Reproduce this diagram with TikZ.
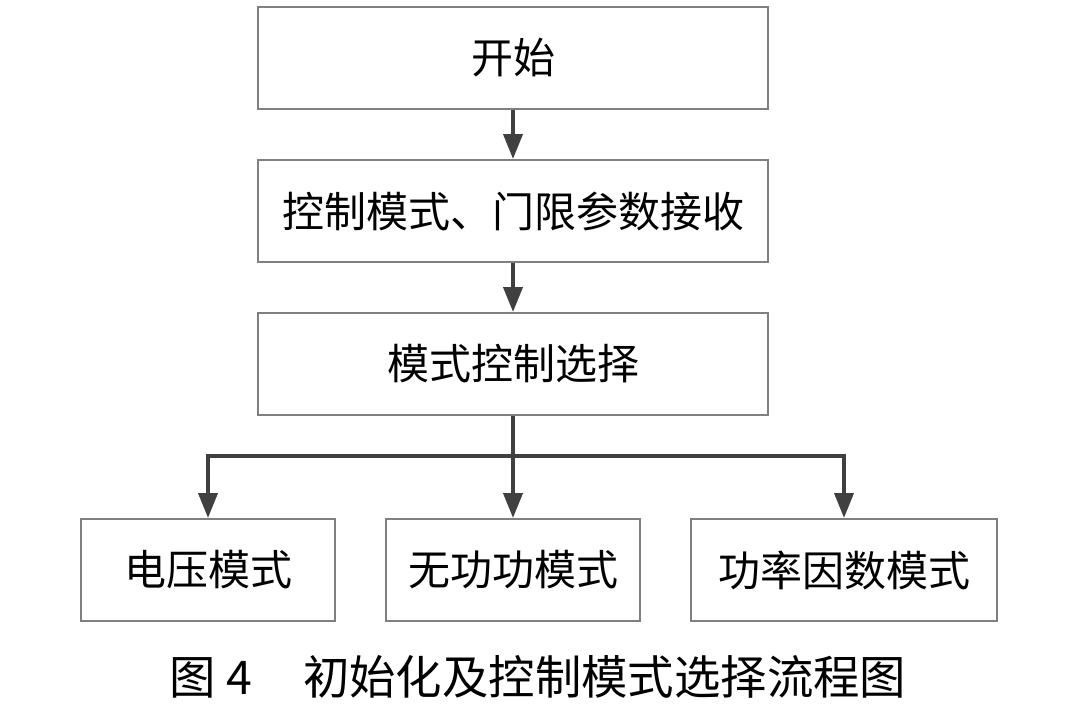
\documentclass[tikz,border=0pt]{standalone}
\usepackage{fontspec}
\setmainfont{Noto Sans CJK SC}
\usetikzlibrary{positioning, arrows.meta}
\tikzset{
  stepbox/.style={
    draw=black!50, line width=1pt, fill=white,
    minimum width=255pt, minimum height=51pt,
    align=center, font=\fontsize{21}{25}\selectfont
  },
  modebox/.style={
    draw=black!50, line width=1pt, fill=white,
    minimum width=127pt, minimum height=51pt,
    align=center, font=\fontsize{21}{25}\selectfont
  },
  arrow/.style={-{Triangle[length=12.5pt, width=9.5pt]}, line width=2pt, draw=black!75}
}

\begin{document}
\begin{tikzpicture}[x=0.5pt, y=-0.5pt, node distance=24.5pt and 24.5pt]
\useasboundingbox (0,0) rectangle (1080,706);

%% main column
\node[stepbox] (start) at (513,58) {开始};
\node[stepbox, below=of start] (recv) {控制模式、门限参数接收};
\node[stepbox, below=of recv] (sel) {模式控制选择};

%% three control modes
\node[modebox, below=51pt of sel] (reac) {无功功模式};
\node[modebox, left=of reac] (volt) {电压模式};
\node[modebox, minimum width=153pt, right=of reac] (pf) {功率因数模式};

%% arrows
\draw[arrow] (start) -- (recv);
\draw[arrow] (recv) -- (sel);
\draw[arrow] (sel.south) -- (reac.north);
\draw[arrow] (sel.south) -- ++(0,-20pt) -| (volt.north);
\draw[arrow] (sel.south) -- ++(0,-20pt) -| (pf.north);

%% caption
\node[font=\fontsize{23.2}{27}\selectfont] (cap) at (538,677) {图~4\hspace{1.1em}初始化及控制模式选择流程图};

\end{tikzpicture}
\end{document}
